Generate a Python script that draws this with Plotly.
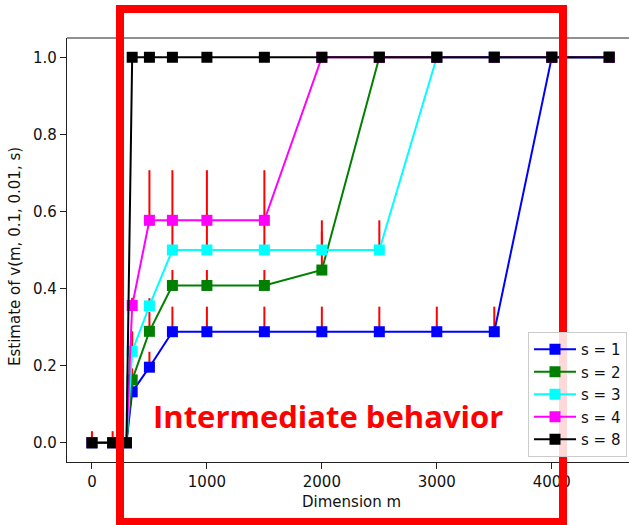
import plotly.graph_objects as go

# ---- data ----
dims = [0, 180, 300, 350, 500, 700, 1000, 1500, 2000, 2500, 3000, 3500, 4000, 4500]
s_labels = ["s = 1", "s = 2", "s = 3", "s = 4", "s = 8"]
v_s1 = [0, 0, 0, 0.132, 0.196, 0.288, 0.288, 0.288, 0.288, 0.288, 0.288, 0.288, 1.0, 1.0]
v_s2 = [0, 0, 0, 0.163, 0.289, 0.408, 0.408, 0.408, 0.448, 1.0, 1.0, 1.0, 1.0, 1.0]
v_s3 = [0, 0, 0, 0.237, 0.355, 0.500, 0.500, 0.500, 0.500, 0.500, 1.0, 1.0, 1.0, 1.0]
v_s4 = [0, 0, 0, 0.356, 0.577, 0.577, 0.577, 0.577, 1.0, 1.0, 1.0, 1.0, 1.0, 1.0]
v_s8 = [0, 0, 0, 1.0, 1.0, 1.0, 1.0, 1.0, 1.0, 1.0, 1.0, 1.0, 1.0, 1.0]
err_s1 = [0, 0, 0, 0.03, 0.04, 0.065, 0.065, 0.065, 0.065, 0.065, 0.065, 0.065, 0, 0]
err_s2 = [0, 0, 0, 0.03, 0.05, 0.04, 0.04, 0.04, 0.10, 0, 0, 0, 0, 0]
err_s3 = [0, 0, 0, 0.052, 0.02, 0.077, 0.077, 0.077, 0.077, 0.077, 0, 0, 0, 0]
err_s4 = [0, 0, 0, 0.02, 0.13, 0.13, 0.13, 0.13, 0, 0, 0, 0, 0, 0]
err_s8 = [0.03, 0.03, 0, 0, 0, 0, 0, 0, 0, 0, 0, 0, 0, 0]
x_ticks = [0, 1000, 2000, 3000, 4000]
y_ticks = [0.0, 0.2, 0.4, 0.6, 0.8, 1.0]

series = [v_s1, v_s2, v_s3, v_s4, v_s8]
errors = [err_s1, err_s2, err_s3, err_s4, err_s8]
colors = ["#0000ff", "#008000", "#00ffff", "#ff00ff", "#000000"]

W, H = 629, 525
L, R, T, B = 67, 0, 38, 63
pw, ph = W - L - R, H - T - B


def px(x):
    return (x - L) / pw


def py(y):
    return (H - B - y) / ph


fig = go.Figure()
for lab, vals, errs, col in zip(s_labels, series, errors, colors):
    fig.add_trace(go.Scatter(
        x=dims, y=vals, name=lab, mode="lines+markers",
        line=dict(color=col, width=2),
        marker=dict(symbol="square", size=11, color=col),
        error_y=dict(type="data", symmetric=False, array=errs,
                     arrayminus=[0] * len(errs), color="#ff0000",
                     thickness=2, width=0),
    ))

font = "DejaVu Sans"
axis_common = dict(showgrid=False, zeroline=False, showline=True,
                   linecolor="#222222", linewidth=1.2, ticks="outside",
                   ticklen=6, tickwidth=1.2, tickcolor="#222222",
                   tickfont=dict(family=font, size=15, color="#111111"))

fig.update_layout(
    width=W, height=H,
    margin=dict(l=L, r=R, t=T, b=B, pad=0, autoexpand=False),
    plot_bgcolor="white", paper_bgcolor="white",
    xaxis=dict(range=[-217, 4672], tickvals=x_ticks,
               ticktext=[str(v) for v in x_ticks], **axis_common),
    yaxis=dict(range=[-0.05, 1.05], tickvals=y_ticks,
               ticktext=["%.1f" % v for v in y_ticks], **axis_common),
    legend=dict(x=px(528), y=py(332), xanchor="left", yanchor="top",
                bgcolor="rgba(255,255,255,0.85)", bordercolor="#cccccc",
                borderwidth=1, itemwidth=42,
                font=dict(family=font, size=15, color="#111111")),
    showlegend=True,
)

# top spine
fig.add_shape(type="line", xref="paper", yref="paper", x0=0, x1=1, y0=1, y1=1,
              line=dict(color="#222222", width=1.2))

# axis titles
fig.add_annotation(text="Dimension m", xref="paper", yref="paper",
                   x=px(351), y=py(502), xanchor="center", yanchor="middle",
                   showarrow=False,
                   font=dict(family=font, size=15, color="#111111"))
fig.add_annotation(text="Estimate of v(m, 0.1, 0.01, s)", xref="paper", yref="paper",
                   x=px(15), y=py(257), xanchor="center", yanchor="middle",
                   showarrow=False, textangle=-90,
                   font=dict(family=font, size=15, color="#111111"))

# red highlight box
fig.add_shape(type="rect", xref="paper", yref="paper",
              x0=px(120), x1=px(563), y0=py(522), y1=py(9),
              line=dict(color="#ff0000", width=8), layer="above")
fig.add_annotation(text="<b>Intermediate behavior</b>", xref="paper", yref="paper",
                   x=px(328), y=py(416), xanchor="center", yanchor="middle",
                   showarrow=False,
                   font=dict(family="Open Sans", size=31, color="#ff0000"))

fig.write_html("out.html",
               config={"displayModeBar": False},
               post_script="document.body.style.margin='0';"
                           "document.body.style.overflow='hidden';")
